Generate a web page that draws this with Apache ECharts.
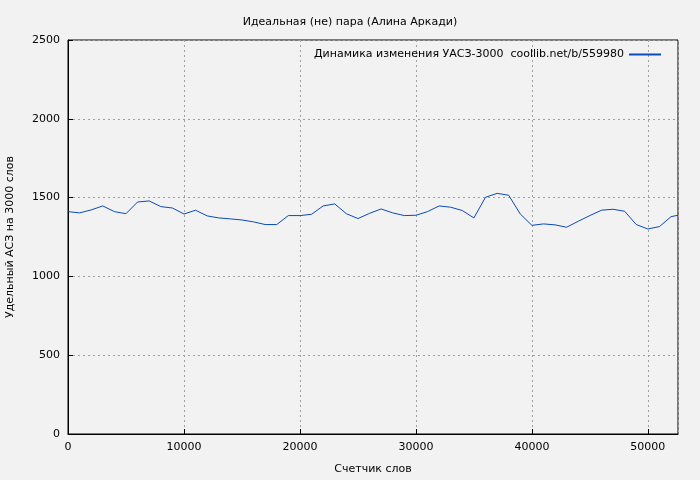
<!DOCTYPE html>
<html>
  <head>
    <meta charset="utf-8" />
    <script src="https://cdn.jsdelivr.net/npm/echarts@6/dist/echarts.min.js"></script>
  </head>
  <body style="margin:0">
    <div id="chart" style="width: 700px; height: 480px"></div>
    <script type="text/javascript">
      var words = [0, 1000, 2000, 3000, 4000, 5000, 6000, 7000, 8000, 9000, 10000, 11000, 12000, 13000, 14000, 15000, 16000, 17000, 18000, 19000, 20000, 21000, 22000, 23000, 24000, 25000, 26000, 27000, 28000, 29000, 30000, 31000, 32000, 33000, 34000, 35000, 36000, 37000, 38000, 39000, 40000, 41000, 42000, 43000, 44000, 45000, 46000, 47000, 48000, 49000, 50000, 51000, 52000, 52600];
      var uas = [1411, 1403, 1422, 1447, 1411, 1398, 1472, 1479, 1443, 1434, 1396, 1420, 1384, 1371, 1365, 1358, 1346, 1329, 1329, 1386, 1386, 1394, 1447, 1460, 1398, 1367, 1400, 1428, 1403, 1386, 1388, 1411, 1447, 1439, 1418, 1371, 1502, 1527, 1515, 1396, 1324, 1333, 1327, 1312, 1350, 1386, 1420, 1426, 1413, 1329, 1301, 1316, 1379, 1388];
      var seriesName = "Динамика изменения УАСЗ-3000  coollib.net/b/559980";

      var chart = echarts.init(document.getElementById("chart"));
      var font = "DejaVu Sans";
      var gridLine = { show: true, lineStyle: { color: "#a0a0a0", type: [2, 3] } };
      var plain = function (v) { return String(v); };
      chart.setOption({
        backgroundColor: "#f2f2f2",
        animation: false,
        textStyle: { fontFamily: font },
        title: {
          text: "Идеальная (не) пара (Алина Аркади)",
          left: "center", top: 12,
          textStyle: { fontSize: 11, fontWeight: "normal", color: "#000", fontFamily: font },
        },
        legend: {
          right: 34, top: 44, itemWidth: 32, itemHeight: 2, itemGap: 8,
          icon: "rect",
          align: "right",
          textStyle: { fontSize: 11, color: "#000", fontFamily: font },
          data: [seriesName],
        },
        grid: {
          left: 68, right: 22, top: 40, bottom: 46,
          containLabel: false, outerBoundsMode: "none",
          show: true, borderColor: "#000", borderWidth: 1, backgroundColor: "transparent",
        },
        xAxis: {
          type: "value", min: 0, max: 52600, interval: 10000,
          name: "Счетчик слов", nameLocation: "middle", nameGap: 30,
          nameTextStyle: { fontSize: 11, color: "#000" },
          axisLine: { lineStyle: { color: "#000" } },
          axisTick: { inside: true, length: 5, lineStyle: { color: "#000" } },
          axisLabel: { fontSize: 11, color: "#000", showMaxLabel: false, formatter: plain },
          splitLine: gridLine,
        },
        yAxis: {
          type: "value", min: 0, max: 2500, interval: 500,
          name: "Удельный АСЗ на 3000 слов", nameLocation: "middle", nameGap: 52,
          nameTextStyle: { fontSize: 11, color: "#000" },
          axisLine: { show: true, lineStyle: { color: "#000" } },
          axisTick: { show: true, inside: true, length: 5, lineStyle: { color: "#000" } },
          axisLabel: { fontSize: 11, color: "#000", formatter: plain },
          splitLine: gridLine,
        },
        series: [{
          name: seriesName, type: "line", showSymbol: false,
          lineStyle: { color: "#0a4aba", width: 1 },
          itemStyle: { color: "#0a4aba" },
          data: words.map(function (w, i) { return [w, uas[i]]; }),
        }],
      });
    </script>
  </body>
</html>
